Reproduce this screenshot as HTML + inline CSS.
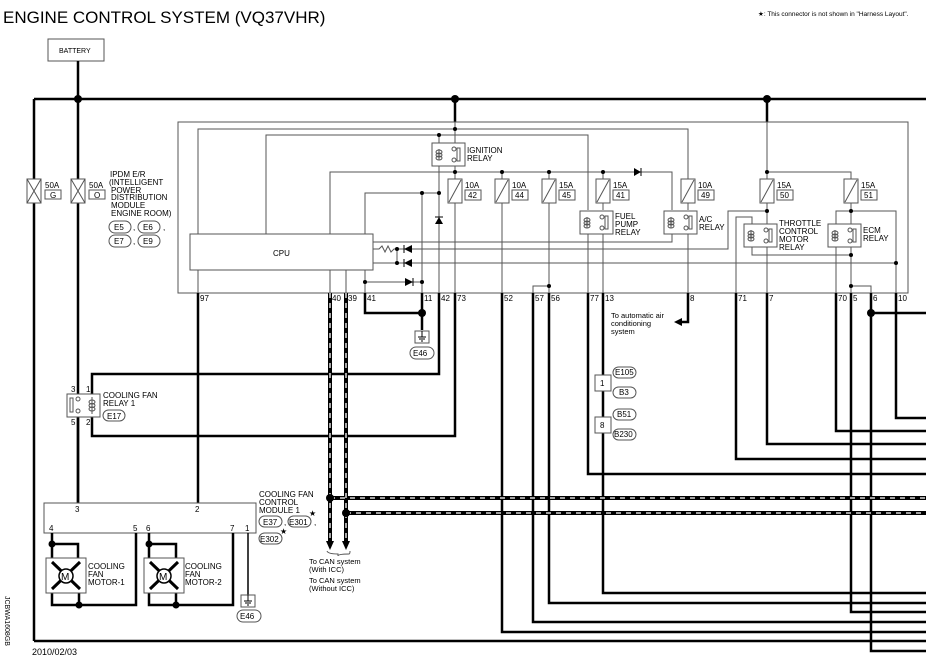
<!DOCTYPE html>
<html><head><meta charset="utf-8"><style>
html,body{margin:0;padding:0;background:#fff;}
svg{display:block;font-family:"Liberation Sans",sans-serif;}
.t{stroke:#555;stroke-width:1;fill:none}
.k{stroke:#000;stroke-width:2.5;fill:none}
.b{stroke:#555;stroke-width:1;fill:#fff}
text{fill:#000}
.s{font-size:8px}
.p{font-size:8px}
</style></head><body>
<svg width="926" height="664" viewBox="0 0 926 664" xmlns="http://www.w3.org/2000/svg">
<text x="3" y="23" font-size="17">ENGINE CONTROL SYSTEM (VQ37VHR)</text>
<text x="758" y="16" font-size="6.5">★: This connector is not shown in "Harness Layout".</text>
<!-- battery -->
<rect x="48" y="39" width="56" height="22" class="b"/>
<text x="59" y="53" font-size="7">BATTERY</text>
<line x1="78" y1="61" x2="78" y2="99" class="k"/>
<!-- bus -->
<line x1="34" y1="99" x2="926" y2="99" class="k"/>
<line x1="34" y1="99" x2="34" y2="641" class="k"/>
<line x1="34" y1="641" x2="926" y2="641" class="k"/>
<line x1="78" y1="99" x2="78" y2="503" class="k"/>
<line x1="455" y1="99" x2="455" y2="122" class="k"/>
<line x1="767" y1="99" x2="767" y2="122" class="k"/>
<circle cx="78" cy="99" r="4"/><circle cx="455" cy="99" r="4"/><circle cx="767" cy="99" r="4"/>
<!-- 50A fuses -->
<g>
<rect x="27" y="179" width="14" height="24" class="b"/><path d="M27 179L41 203M41 179L27 203" class="t"/>
<rect x="71" y="179" width="14" height="24" class="b"/><path d="M71 179L85 203M85 179L71 203" class="t"/>
<text x="45" y="188" class="s">50A</text><rect x="45" y="190" width="16" height="9" class="b"/><text x="50" y="198" class="s">G</text>
<text x="89" y="188" class="s">50A</text><rect x="89" y="190" width="16" height="9" class="b"/><text x="94" y="198" class="s">O</text>
</g>
<g font-size="8">
<text x="110" y="177">IPDM E/R</text><text x="109" y="185">(INTELLIGENT</text><text x="111" y="193">POWER</text>
<text x="111" y="200">DISTRIBUTION</text><text x="111" y="208">MODULE</text><text x="111" y="216">ENGINE ROOM)</text>
</g>
<g class="s">
<rect x="109" y="221" width="22" height="12" rx="6" class="b"/><text x="114" y="230">E5</text><text x="133" y="230">,</text>
<rect x="138" y="221" width="22" height="12" rx="6" class="b"/><text x="143" y="230">E6</text><text x="163" y="230">,</text>
<rect x="109" y="235" width="22" height="12" rx="6" class="b"/><text x="114" y="244">E7</text><text x="133" y="244">,</text>
<rect x="138" y="235" width="22" height="12" rx="6" class="b"/><text x="143" y="244">E9</text>
</g>
<!-- IPDM box -->
<rect x="178" y="122" width="730" height="171" class="t"/>
<rect x="190" y="234" width="183" height="36" class="b"/>
<text x="273" y="256" font-size="8">CPU</text>
<!-- internal wiring -->
<g class="t">
<path d="M198 234V129H688V179"/>
<path d="M266 234V135H588V210"/>
<path d="M330 234V172H672V210"/>
<path d="M365 234V193H439"/>
<path d="M439 135V143M439 166V293"/>
<path d="M455 122V143M455 166V179M455 203V293"/>
<path d="M365 270V293M365 282H422"/>
<path d="M422 193V293"/>
<path d="M373 249H379L382 246L385 252L388 246L391 252L394 249H728V211H767"/>
<path d="M373 242H672V234"/>
<path d="M373 263H896"/>
<path d="M397 249V263"/>
<path d="M502 172V179M502 203V293"/>
<path d="M549 172V179M549 203V293M549 286H533V293"/>
<path d="M603 172V179M603 203V210M603 234V293"/>
<path d="M588 234V293"/>
<path d="M688 203V210M688 234V293"/>
<path d="M672 234V242"/>
<path d="M767 122V179M767 172H851V179M767 203V224M767 247V293"/>
<path d="M851 203V224M851 247V293M851 286H871V293"/>
<path d="M836 293V247M836 224V211H896V293"/>
<path d="M736 293V217H752V224M752 247V255H851"/>
<path d="M198 270V293"/><path d="M330 270V293"/><path d="M346 270V293"/>
</g>
<g>
<circle cx="439" cy="135" r="2"/><circle cx="455" cy="129" r="2"/><circle cx="455" cy="172" r="2"/>
<circle cx="422" cy="193" r="2"/><circle cx="439" cy="193" r="2"/><circle cx="365" cy="282" r="2"/><circle cx="422" cy="282" r="2"/>
<circle cx="397" cy="249" r="2"/><circle cx="397" cy="263" r="2"/>
<circle cx="502" cy="172" r="2"/><circle cx="549" cy="172" r="2"/><circle cx="603" cy="172" r="2"/><circle cx="549" cy="286" r="2"/>
<circle cx="767" cy="172" r="2"/><circle cx="767" cy="211" r="2"/><circle cx="851" cy="211" r="2"/>
<circle cx="851" cy="255" r="2"/><circle cx="851" cy="286" r="2"/><circle cx="896" cy="263" r="2"/>
<!-- diodes -->
<path d="M404 249L412 245V253Z"/><line x1="404" y1="245" x2="404" y2="253" stroke="#000"/>
<path d="M404 263L412 259V267Z"/><line x1="404" y1="259" x2="404" y2="267" stroke="#000"/>
<path d="M413 282L405 278V286Z"/><line x1="413" y1="278" x2="413" y2="286" stroke="#000"/>
<path d="M439 217L435 224H443Z"/><line x1="435" y1="217" x2="443" y2="217" stroke="#000"/>
<path d="M641 172L634 168V176Z"/><line x1="641" y1="168" x2="641" y2="176" stroke="#000"/>
</g>
<!-- small fuses -->
<g class="s">
<g transform="translate(455,0)"><rect x="-7" y="179" width="14" height="24" class="b"/><path d="M-6 202L6 180" class="t"/><text x="10" y="188">10A</text><rect x="10" y="190" width="16" height="10" class="b"/><text x="13" y="198">42</text></g>
<g transform="translate(502,0)"><rect x="-7" y="179" width="14" height="24" class="b"/><path d="M-6 202L6 180" class="t"/><text x="10" y="188">10A</text><rect x="10" y="190" width="16" height="10" class="b"/><text x="13" y="198">44</text></g>
<g transform="translate(549,0)"><rect x="-7" y="179" width="14" height="24" class="b"/><path d="M-6 202L6 180" class="t"/><text x="10" y="188">15A</text><rect x="10" y="190" width="16" height="10" class="b"/><text x="13" y="198">45</text></g>
<g transform="translate(603,0)"><rect x="-7" y="179" width="14" height="24" class="b"/><path d="M-6 202L6 180" class="t"/><text x="10" y="188">15A</text><rect x="10" y="190" width="16" height="10" class="b"/><text x="13" y="198">41</text></g>
<g transform="translate(688,0)"><rect x="-7" y="179" width="14" height="24" class="b"/><path d="M-6 202L6 180" class="t"/><text x="10" y="188">10A</text><rect x="10" y="190" width="16" height="10" class="b"/><text x="13" y="198">49</text></g>
<g transform="translate(767,0)"><rect x="-7" y="179" width="14" height="24" class="b"/><path d="M-6 202L6 180" class="t"/><text x="10" y="188">15A</text><rect x="10" y="190" width="16" height="10" class="b"/><text x="13" y="198">50</text></g>
<g transform="translate(851,0)"><rect x="-7" y="179" width="14" height="24" class="b"/><path d="M-6 202L6 180" class="t"/><text x="10" y="188">15A</text><rect x="10" y="190" width="16" height="10" class="b"/><text x="13" y="198">51</text></g>
</g>
<!-- relays -->
<defs>
<g id="rel">
<rect x="0" y="0" width="33" height="23" class="b"/>
<path d="M7 6V17" class="t"/>
<ellipse cx="7" cy="9" rx="3" ry="2" class="t"/><ellipse cx="7" cy="12" rx="3" ry="2" class="t"/><ellipse cx="7" cy="15" rx="3" ry="2" class="t"/>
<circle cx="22" cy="6" r="2" class="b"/><circle cx="22" cy="17" r="2" class="b"/>
<rect x="25" y="5" width="3" height="13" class="b"/>
</g>
</defs>
<use href="#rel" x="432" y="143"/>
<use href="#rel" x="580" y="211"/>
<use href="#rel" x="664" y="211"/>
<use href="#rel" x="744" y="224"/>
<use href="#rel" x="828" y="224"/>
<g font-size="8">
<text x="467" y="153">IGNITION</text><text x="467" y="161">RELAY</text>
<text x="615" y="219">FUEL</text><text x="615" y="227">PUMP</text><text x="615" y="235">RELAY</text>
<text x="699" y="222">A/C</text><text x="699" y="230">RELAY</text>
<text x="779" y="226">THROTTLE</text><text x="779" y="234">CONTROL</text><text x="779" y="242">MOTOR</text><text x="779" y="250">RELAY</text>
<text x="863" y="233">ECM</text><text x="863" y="241">RELAY</text>
</g>
<!-- pin labels -->
<g class="p">
<text x="200" y="301">97</text><text x="332" y="301">40</text><text x="348" y="301">39</text><text x="367" y="301">41</text>
<text x="424" y="301">11</text><text x="441" y="301">42</text><text x="457" y="301">73</text><text x="504" y="301">52</text>
<text x="535" y="301">57</text><text x="551" y="301">56</text><text x="590" y="301">77</text><text x="605" y="301">13</text>
<text x="690" y="301">8</text><text x="738" y="301">71</text><text x="769" y="301">7</text><text x="838" y="301">70</text>
<text x="853" y="301">5</text><text x="873" y="301">6</text><text x="898" y="301">10</text>
</g>
<!-- external thick wires -->
<g class="k">
<path d="M198 293V503"/>
<path d="M365 293V313H422"/><path d="M422 293V330"/>
<path d="M439 293V374H92V394"/>
<path d="M455 293V436H92V417"/>
<path d="M502 293V632H926"/>
<path d="M533 293V622H926"/>
<path d="M549 293V603H926"/>
<path d="M588 293V474H926"/>
<path d="M603 293V593H926"/>
<path d="M688 293V322H680"/>
<path d="M736 293V459H926"/>
<path d="M767 293V444H926"/>
<path d="M836 293V431H926"/>
<path d="M851 293V612H926"/>
<path d="M871 293V651H926"/><path d="M871 313H926"/>
<path d="M896 293V418H926"/>
<path d="M78 417V503"/>
</g>
<path d="M674 322L682 318V326Z"/>
<circle cx="422" cy="313" r="4"/><circle cx="871" cy="313" r="4"/>
<!-- ground E46 -->
<rect x="415" y="331" width="14" height="12" class="b"/><path d="M418 337H426M419 339H425M421 341H423M422 331V337" stroke="#000" stroke-width="1"/>
<rect x="410" y="347" width="24" height="12" rx="6" class="b"/><text x="413" y="356" class="s">E46</text>
<text x="611" y="318" font-size="7.5">To automatic air</text><text x="611" y="326" font-size="7.5">conditioning</text><text x="611" y="334" font-size="7.5">system</text>
<!-- connectors on 603 -->
<rect x="595" y="375" width="16" height="16" class="b"/><text x="600" y="386" class="s">1</text>
<rect x="595" y="417" width="16" height="16" class="b"/><text x="600" y="428" class="s">8</text>
<g class="s">
<rect x="613" y="367" width="23" height="11" rx="5.5" class="b"/><text x="615" y="375">E105</text>
<rect x="613" y="387" width="23" height="11" rx="5.5" class="b"/><text x="619" y="395">B3</text>
<rect x="613" y="409" width="23" height="11" rx="5.5" class="b"/><text x="617" y="417">B51</text>
<rect x="613" y="429" width="23" height="11" rx="5.5" class="b"/><text x="614" y="437">B230</text>
</g>
<!-- CAN dashed -->
<g>
<path d="M330 293V543M346 293V543M330 498H926M346 513H926" stroke="#000" stroke-width="4" fill="none"/>
<path d="M330 293V543M346 293V543M330 498H926M346 513H926" stroke="#fff" stroke-width="1.3" stroke-dasharray="5 5" fill="none"/>
<path d="M326 541L330 550L334 541Z"/><path d="M342 541L346 550L350 541Z"/>
<circle cx="330" cy="498" r="4"/><circle cx="346" cy="513" r="4"/>
<path d="M327 551Q328 554 338 554Q338 556 338 556Q338 554 349 554Q350 554 350 551" class="t"/>
</g>
<g font-size="7.5">
<text x="309" y="564">To CAN system</text><text x="309" y="572">(With ICC)</text>
<text x="309" y="583">To CAN system</text><text x="309" y="591">(Without ICC)</text>
</g>
<!-- cooling fan relay -->
<rect x="67" y="394" width="33" height="23" class="b"/>
<rect x="70" y="398" width="3" height="14" class="b"/>
<circle cx="78" cy="399" r="2" class="b"/><circle cx="78" cy="411" r="2" class="b"/>
<path d="M92 397V414" class="t"/><ellipse cx="92" cy="402" rx="3" ry="2" class="t"/><ellipse cx="92" cy="405.5" rx="3" ry="2" class="t"/><ellipse cx="92" cy="409" rx="3" ry="2" class="t"/>
<g class="s"><text x="71" y="392">3</text><text x="86" y="392">1</text><text x="71" y="425">5</text><text x="86" y="425">2</text></g>
<text x="103" y="398" font-size="8">COOLING FAN</text><text x="103" y="406" font-size="8">RELAY 1</text>
<rect x="103" y="410" width="22" height="11" rx="5.5" class="b"/><text x="107" y="419" class="s">E17</text>
<!-- cooling fan module -->
<rect x="44" y="503" width="212" height="30" class="b"/>
<g class="s"><text x="75" y="512">3</text><text x="195" y="512">2</text>
<text x="49" y="531">4</text><text x="133" y="531">5</text><text x="146" y="531">6</text><text x="230" y="531">7</text><text x="245" y="531">1</text></g>
<g font-size="8"><text x="259" y="497">COOLING FAN</text><text x="259" y="505">CONTROL</text><text x="259" y="513">MODULE 1</text></g>
<g class="s">
<rect x="259" y="516" width="23" height="11" rx="5.5" class="b"/><text x="263" y="525">E37</text><text x="284" y="525">,</text>
<rect x="288" y="516" width="23" height="11" rx="5.5" class="b"/><text x="289" y="525">E301</text><text x="309" y="516">★</text><text x="314" y="525">,</text>
<rect x="259" y="533" width="23" height="11" rx="5.5" class="b"/><text x="260" y="542">E302</text><text x="280" y="534">★</text>
</g>
<g class="k">
<path d="M52 533V605H136V533"/><path d="M52 544H78V558"/><path d="M79 593V605"/>
<path d="M149 533V605H233V533"/><path d="M149 544H176V558"/><path d="M176 593V605"/>
<path d="M248 533V595" stroke-width="1.5"/>
</g>
<g>
<circle cx="52" cy="544" r="3.5"/><circle cx="79" cy="605" r="3.5"/><circle cx="149" cy="544" r="3.5"/><circle cx="176" cy="605" r="3.5"/>
</g>
<g id="m1">
<rect x="46" y="558" width="40" height="35" class="b"/>
<path d="M52 562L80 589M80 562L52 589" stroke="#000" stroke-width="3"/>
<circle cx="66" cy="576" r="7" fill="#fff" stroke="#000" stroke-width="1.5"/>
<text x="61" y="580" font-size="10">M</text>
</g>
<use href="#m1" x="98" y="0"/>
<g font-size="8"><text x="88" y="569">COOLING</text><text x="88" y="577">FAN</text><text x="88" y="585">MOTOR-1</text>
<text x="185" y="569">COOLING</text><text x="185" y="577">FAN</text><text x="185" y="585">MOTOR-2</text></g>
<rect x="241" y="595" width="14" height="12" class="b"/><path d="M244 601H252M245 603H251M247 605H249M248 595V601" stroke="#000" stroke-width="1"/>
<rect x="237" y="610" width="24" height="12" rx="6" class="b"/><text x="240" y="619" class="s">E46</text>
<text x="32" y="655" font-size="9">2010/02/03</text>
<text transform="translate(5,596) rotate(90)" font-size="7">JCBWA1608GB</text>
</svg>
</body></html>
